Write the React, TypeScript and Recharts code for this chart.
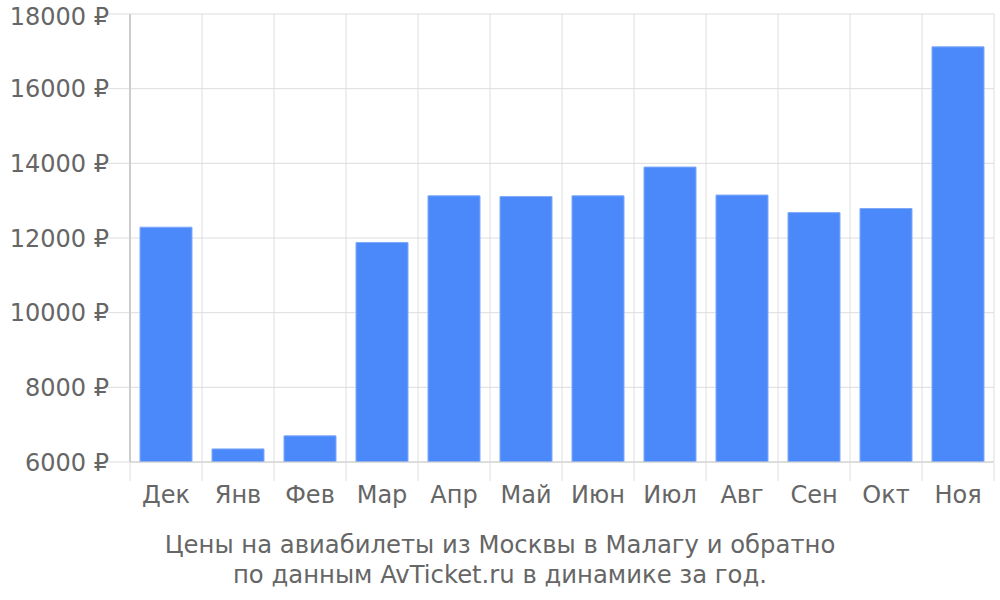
import React from "react";
import { BarChart, Bar, XAxis, YAxis, CartesianGrid } from "recharts";

const months = ["Дек", "Янв", "Фев", "Мар", "Апр", "Май", "Июн", "Июл", "Авг", "Сен", "Окт", "Ноя"];
const prices = [12290, 6350, 6700, 11880, 13130, 13110, 13130, 13900, 13150, 12680, 12790, 17120];
const yTicks = [6000, 8000, 10000, 12000, 14000, 16000, 18000];
const titleLines = [
  "Цены на авиабилеты из Москвы в Малагу и обратно",
  "по данным AvTicket.ru в динамике за год.",
];

const data = months.map((name, i) => ({ name, idx: i + 0.5, price: prices[i] }));
const boundaries = months.map((_, i) => i).concat(months.length);

const font = "'DejaVu Sans', sans-serif";

const NoLabel = () => <g />;

export default function App() {
  return (
    <div style={{ position: "absolute", left: 0, top: 0, width: 1000, height: 600, fontFamily: font }}>
      <BarChart
        width={1000}
        height={600}
        data={data}
        margin={{ top: 14, right: 6, left: 0, bottom: 80 }}
        style={{ fontFamily: font }}
      >
        <CartesianGrid stroke="#dddddd" xAxisId="grid" />
        <XAxis
          dataKey="name"
          height={1}
          tickLine={false}
          axisLine={{ stroke: "#cccccc" }}
          tickSize={0}
          tickMargin={24}
          tick={{ fill: "#666666", fontSize: 24 }}
        />
        <XAxis
          xAxisId="grid"
          dataKey="idx"
          type="number"
          domain={[0, months.length]}
          ticks={boundaries}
          interval={0}
          allowDataOverflow
          height={57}
          tickSize={18}
          tick={NoLabel}
          tickLine={{ stroke: "#dddddd" }}
          axisLine={false}
        />
        <YAxis
          width={130}
          domain={[6000, 18000]}
          ticks={yTicks}
          allowDataOverflow
          tickSize={22}
          tickMargin={-1}
          tickFormatter={(v) => `${v} ₽`}
          tick={{ fill: "#666666", fontSize: 24 }}
          tickLine={{ stroke: "#dddddd" }}
          axisLine={{ stroke: "#aaaaaa" }}
        />
        <Bar
          dataKey="price"
          fill="#4b89fa"
          stroke="#7ea9fb"
          strokeWidth={1}
          barSize={52}
          isAnimationActive={false}
        />
      </BarChart>
      <div
        style={{
          position: "absolute",
          left: 0,
          top: 530,
          width: 1000,
          textAlign: "center",
          color: "#666666",
          fontSize: 24.3,
          lineHeight: "30px",
        }}
      >
        {titleLines.map((t) => (
          <div key={t}>{t}</div>
        ))}
      </div>
    </div>
  );
}
